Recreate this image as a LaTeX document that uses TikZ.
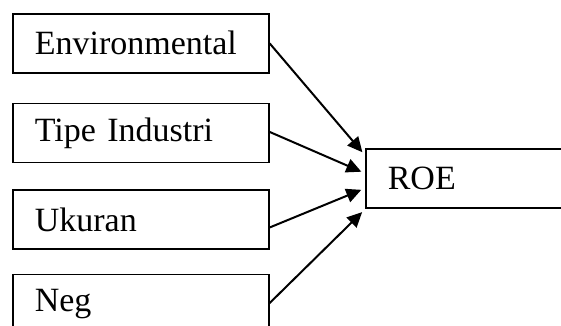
\documentclass[tikz,border=0pt]{standalone}
\usepackage{fontspec}
\setmainfont{Liberation Serif}
\usetikzlibrary{positioning,arrows.meta}
\tikzset{
  varbox/.style={draw, line width=1.6pt, anchor=north west, minimum height=59pt,
    text width=212pt, inner xsep=22pt, align=left, font=\fontsize{34}{40}\selectfont},
  link/.style={-{Triangle[length=15pt,width=14pt]}, line width=2pt, shorten >=4pt}
}
\begin{document}
\begin{tikzpicture}[x=1pt, y=1pt]
  \useasboundingbox (0,0) rectangle (561,-325);
  \node[varbox] (env) at (12,-13) {Environmental};
  \node[varbox, below=29pt of env.south west, anchor=north west] (tipe) {Tipe Industri};
  \node[varbox, below=26pt of tipe.south west, anchor=north west] (ukuran) {Ukuran};
  \node[varbox, below=24pt of ukuran.south west, anchor=north west] (neg) {Neg};
  \node[varbox] (roe) at (365,-148) {ROE};
  \draw[link] (env.east) -- ([yshift=23pt]roe.west);
  \draw[link] ([yshift=1pt]tipe.east) -- ([yshift=5pt]roe.west);
  \draw[link] ([yshift=-8pt]ukuran.east) -- ([yshift=-10pt]roe.west);
  \draw[link] ([yshift=1pt]neg.east) -- ([yshift=-31pt]roe.west);
\end{tikzpicture}
\end{document}
